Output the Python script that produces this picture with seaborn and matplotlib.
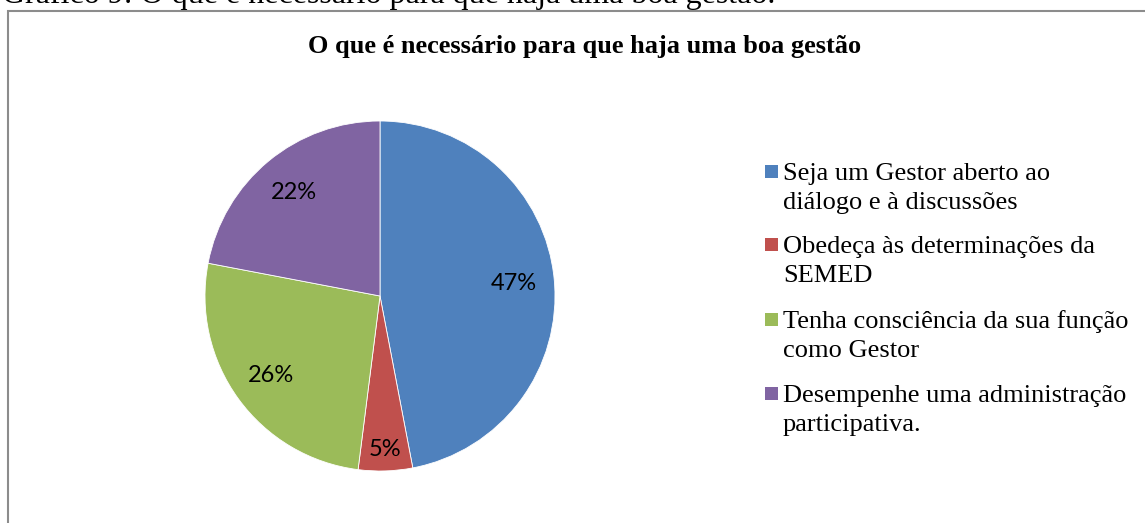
import matplotlib
matplotlib.use("Agg")
import matplotlib.pyplot as plt
import seaborn as sns
import numpy as np
from matplotlib.patches import Rectangle

categories = [
    "Seja um Gestor aberto ao\ndiálogo e à discussões",
    "Obedeça às determinações da\nSEMED",
    "Tenha consciência da sua função\ncomo Gestor",
    "Desempenhe uma administração\nparticipativa.",
]
values = [47, 5, 26, 22]
colors = ["#4F81BD", "#C0504D", "#9BBB59", "#8064A2"]
title = "O que é necessário para que haja uma boa gestão"
caption = "Gráfico 9: O que é necessário para que haja uma boa gestão."

sns.set_theme(style="white")
palette = sns.color_palette(colors)

W, H = 1145, 523
fig = plt.figure(figsize=(W / 100, H / 100), dpi=100)
fig.patch.set_facecolor("white")

def fx(px):
    return px / W

def fy(py):
    return 1 - py / H

# frame
fig.patches.append(Rectangle((fx(8), fy(530)), fx(1200), (530 - 11) / H,
                             transform=fig.transFigure, fill=False,
                             edgecolor="#8c8c8c", linewidth=1.5, zorder=0))

# caption (cut off at top, as in the source page)
fig.text(fx(2), fy(3), caption, family="Liberation Serif", fontsize=23,
         ha="left", va="baseline", color="black")

# title
fig.text(fx(585), fy(47), title, family="Liberation Serif", fontsize=19,
         fontweight="bold", ha="center", va="center", color="black")

# pie
cx, cy, r = 380, 296, 175
ax = fig.add_axes([fx(cx - r), fy(cy + r), (2 * r) / W, (2 * r) / H])
wedges, texts, autotexts = ax.pie(
    values, colors=palette, startangle=90, counterclock=False,
    autopct=lambda p: f"{p:.0f}%", pctdistance=0.77,
    wedgeprops=dict(edgecolor="white", linewidth=0.6),
    textprops=dict(family="Lato", fontsize=17, color="black"),
)
for w, t in zip(wedges, autotexts):
    ang = np.deg2rad((w.theta1 + w.theta2) / 2)
    dist = 0.88 if (w.theta2 - w.theta1) < 30 else 0.77
    t.set_position((dist * np.cos(ang), dist * np.sin(ang)))
ax.set_xlim(-1, 1)
ax.set_ylim(-1, 1)
ax.set_aspect("equal")
ax.axis("off")

# legend (Excel-like, marker aligned to first line)
baselines = [180, 253, 328, 402]
for lab, col, b in zip(categories, palette, baselines):
    fig.patches.append(Rectangle((fx(765), fy(b - 2)), fx(13), 13 / H,
                                 transform=fig.transFigure, facecolor=col,
                                 edgecolor="none"))
    lines = lab.split("\n")
    for i, line in enumerate(lines):
        fig.text(fx(783), fy(b + 29 * i), line, family="Liberation Serif",
                 fontsize=19, ha="left", va="baseline", color="black")

fig.savefig("out.png", dpi=100, facecolor="white")
